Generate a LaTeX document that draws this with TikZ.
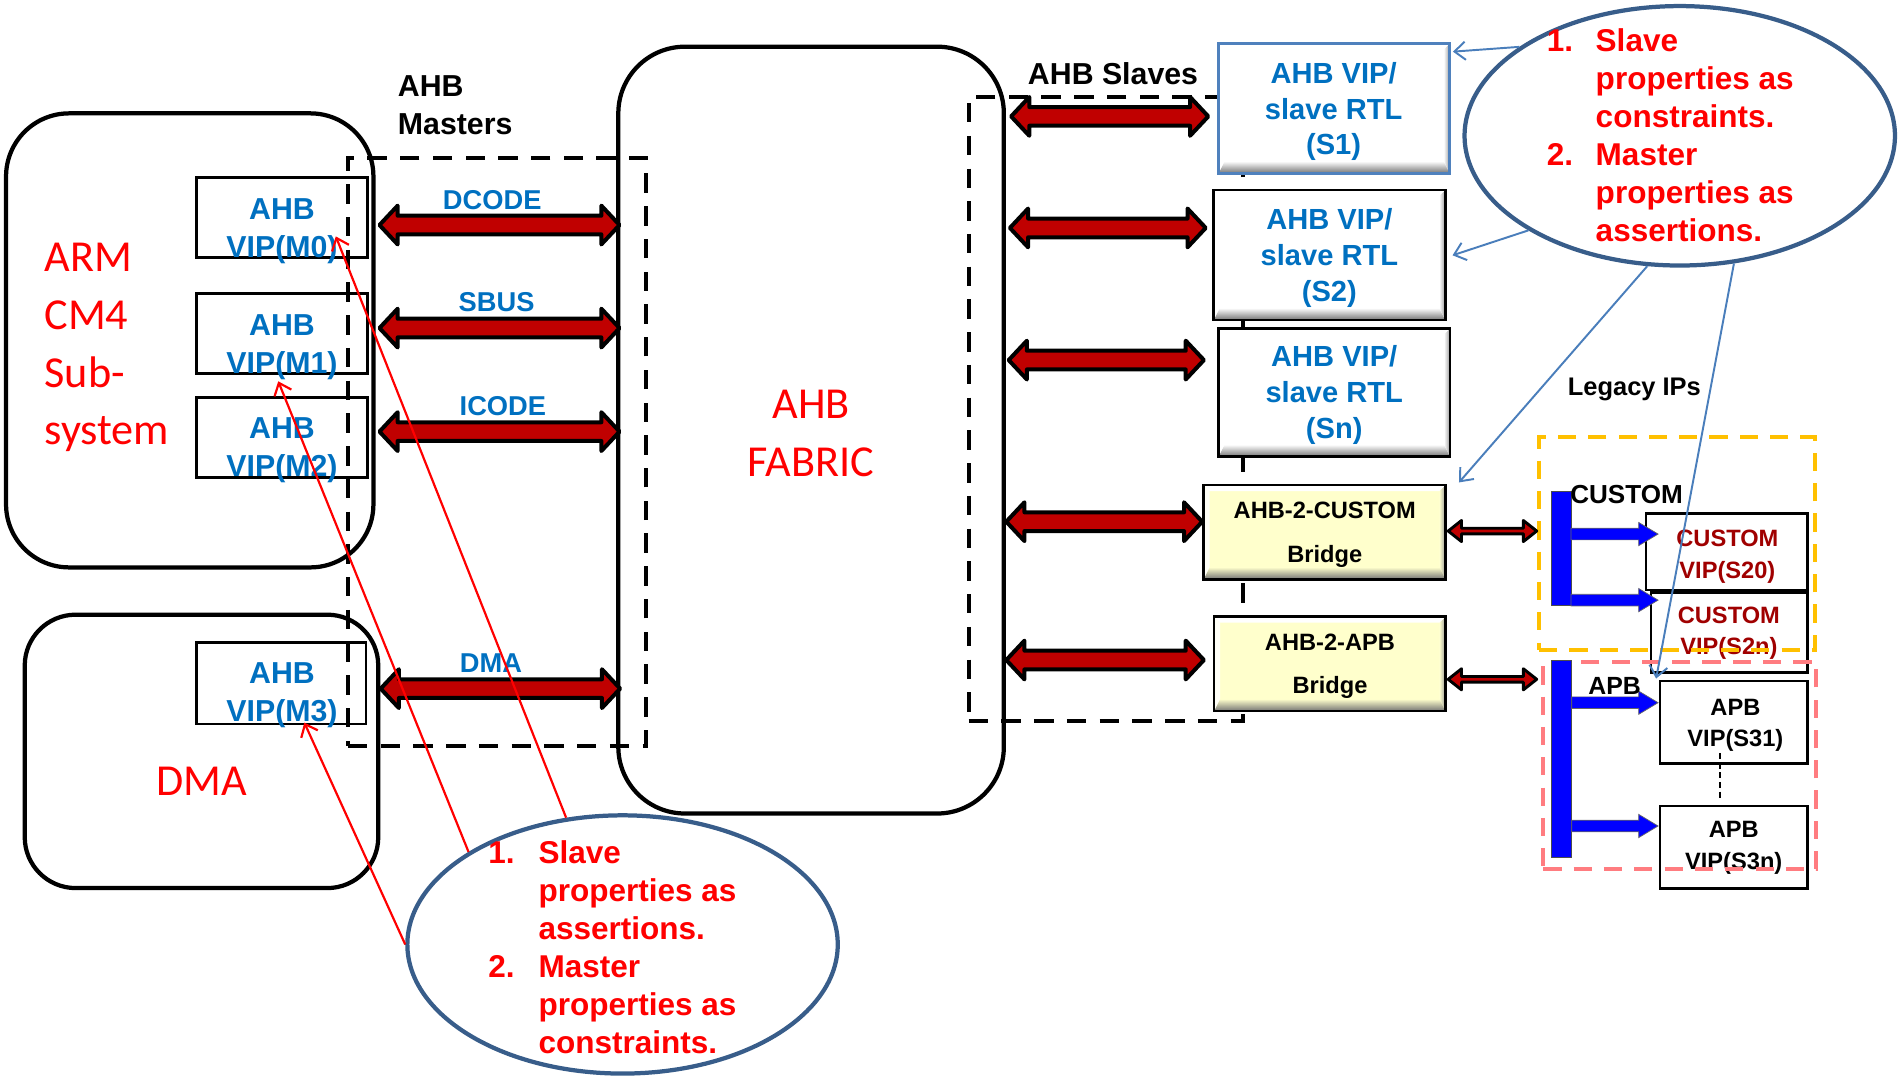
\documentclass[tikz,border=0pt]{standalone}
\usepackage{fontspec}
\setmainfont{Liberation Sans}
\newfontfamily\calib{Carlito}
\usetikzlibrary{calc,fit,shapes.geometric,arrows.meta}

\definecolor{vipblue}{HTML}{0070C0}
\definecolor{busred}{HTML}{C00000}
\definecolor{noteline}{HTML}{385D8A}
\definecolor{linkblue}{HTML}{4A7EBB}
\definecolor{s1edge}{HTML}{4F81BD}
\definecolor{bridgefill}{HTML}{FFFFCC}
\definecolor{custred}{HTML}{A00000}
\definecolor{ipyellow}{HTML}{FFC000}
\definecolor{appink}{HTML}{FF7C80}

% multi-line text whose reference point is the baseline of the last line
\newcommand\mlines[2][c]{\begin{tabular}[b]{@{}#1@{}}#2\end{tabular}}
\newcommand\fs[2]{\fontsize{#1}{#2}\selectfont}

% horizontal double-headed block arrow between two points
% #1 style, #2 head half-height, #3 shaft half-height, #4 head length, #5 left end, #6 right end
\newcommand\fatarrow[6]{%
  \path[#1] let \p1=(#5), \p2=(#6) in
    (\x1,\y1) -- (\x1+#4pt,\y1+#2pt) -- (\x1+#4pt,\y1+#3pt) -- (\x2-#4pt,\y1+#3pt)
    -- (\x2-#4pt,\y1+#2pt) -- (\x2,\y1) -- (\x2-#4pt,\y1-#2pt) -- (\x2-#4pt,\y1-#3pt)
    -- (\x1+#4pt,\y1-#3pt) -- (\x1+#4pt,\y1-#2pt) -- cycle;}

% single-headed blue feed arrow from a bus bar
\newcommand\feedarrow[2]{%
  \path[feedstyle] let \p1=(#1), \p2=(#2) in
    (\x1,\y1-4.8pt) -- (\x2-16pt,\y1-4.8pt) -- (\x2-16pt,\y1-9.6pt) -- (\x2,\y1)
    -- (\x2-16pt,\y1+9.6pt) -- (\x2-16pt,\y1+4.8pt) -- (\x1,\y1+4.8pt) -- cycle;}

\tikzset{
  % raised bevel inside a box, #1 is the face colour
  bevel/.style={path picture={
    \coordinate (bsw) at (path picture bounding box.south west);
    \coordinate (bse) at (path picture bounding box.south east);
    \coordinate (bnw) at (path picture bounding box.north west);
    \coordinate (bne) at (path picture bounding box.north east);
    \shade[top color=#1, bottom color=black!55]
      (bsw) -- (bse) -- ([xshift=-5pt,yshift=10pt]bse) -- ([xshift=5pt,yshift=10pt]bsw) -- cycle;
    \shade[left color=#1, right color=black!40]
      (bse) -- (bne) -- ([xshift=-5pt,yshift=-5pt]bne) -- ([xshift=-5pt,yshift=10pt]bse) -- cycle;
    \fill[white, opacity=0.85]
      (bsw) -- (bnw) -- ([xshift=5pt,yshift=-5pt]bnw) -- ([xshift=5pt,yshift=10pt]bsw) -- cycle;
    \fill[white]
      (bnw) -- (bne) -- ([xshift=-5pt,yshift=-5pt]bne) -- ([xshift=5pt,yshift=-5pt]bnw) -- cycle;}},
  bigbox/.style={draw, line width=3.5pt, rounded corners=#1, fill=white, inner sep=0pt},
  vipbox/.style={draw, line width=2pt, fill=white, inner sep=0pt},
  slavebox/.style={draw, line width=2.2pt, fill=white, inner sep=0pt, bevel=white},
  bridgebox/.style={draw, line width=2.2pt, fill=bridgefill, inner sep=0pt, bevel=bridgefill},
  ipbox/.style={draw, line width=2pt, fill=white, inner sep=0pt},
  groupdash/.style={draw, line width=3.3pt, dash pattern=on 16pt off 11pt, inner sep=0pt},
  yellowgroup/.style={draw=ipyellow, line width=3.3pt, dash pattern=on 15pt off 10pt, inner sep=0pt},
  pinkgroup/.style={draw=appink, line width=3.3pt, dash pattern=on 15pt off 10pt, inner sep=0pt},
  busstyle/.style={draw=black, fill=busred, line width=3.3pt, line join=round},
  smallbus/.style={draw=black, fill=busred, line width=2.4pt, line join=round},
  feedstyle/.style={fill=blue, draw=black!60, line width=0.6pt},
  busbar/.style={fill=blue, draw=black!70, line width=0.8pt, inner sep=0pt},
  note/.style={ellipse, draw=noteline, line width=3.5pt, inner sep=0pt},
  redpointer/.style={draw=red, line width=1.8pt, -{Straight Barb[length=9pt,width=15pt]}},
  bluepointer/.style={draw=linkblue, line width=1.6pt, -{Straight Barb[length=9pt,width=15pt]}},
  linkdash/.style={draw, line width=1.2pt, dash pattern=on 5pt off 3pt},
  viptext/.style={inner sep=0pt, text=vipblue, font=\bfseries\fs{25}{31.5}},
  slavetext/.style={inner sep=0pt, text=vipblue, font=\bfseries\fs{24}{29.6}},
  bustext/.style={inner sep=0pt, text=vipblue, font=\bfseries\fs{22.5}{27}},
  bridgetext/.style={inner sep=0pt, font=\bfseries\fs{19.5}{36}},
  iptext/.style={inner sep=0pt, font=\bfseries\fs{19.5}{26}},
  headtext/.style={inner sep=0pt, font=\bfseries\fs{25}{31.5}},
  smallhead/.style={inner sep=0pt, font=\bfseries\fs{21}{25}},
  blocktext/.style={inner sep=0pt, text=red, font=\calib\fs{36.5}{47.7}},
  notetext/.style={inner sep=0pt, text=red, font=\bfseries\fs{26}{31.3}},
}

\begin{document}
\begin{tikzpicture}[x=1pt,y=-1pt]
\useasboundingbox (0,0) rectangle (1568,892);

% ---------------- masters side ----------------
\node[bigbox=52pt, fit={(5,93.5) (308,468)}] (arm) {};
\node[bigbox=42pt, fit={(20.4,507) (312,732.5)}] (dma) {};
\node[bigbox=55pt, fit={(510,38.5) (828,671)}] (fabric) {};

\node[blocktext, anchor=base west] (armt) at (36.5,367) {\mlines[l]{ARM\\CM4\\Sub-\\system}};
\node[blocktext, anchor=base] (dmat) at (166.5,656) {DMA};
\node[blocktext, anchor=base] (fabt) at (669,392.7) {\mlines{AHB\\FABRIC}};

\node[vipbox, fit={(162,146.5) (303,212.5)}] (m0) {};
\node[vipbox, fit={(162,242) (303,308)}] (m1) {};
\node[vipbox, fit={(162,328) (303,394)}] (m2) {};
\node[vipbox, fit={(162,530) (302,597)}] (m3) {};
\node[viptext, anchor=base] (m0t) at (232.6,212.5) {\mlines{AHB\\VIP(M0)}};
\node[viptext, anchor=base] (m1t) at (232.6,307.9) {\mlines{AHB\\VIP(M1)}};
\node[viptext, anchor=base] (m2t) at (232.6,393) {\mlines{AHB\\VIP(M2)}};
\node[viptext, anchor=base] (m3t) at (232.6,595) {\mlines{AHB\\VIP(M3)}};

\node[headtext, anchor=base west] (mastt) at (328,111) {\mlines[l]{AHB\\Masters}};
\node[headtext, anchor=base west] (slvt) at (847.7,70) {AHB Slaves};

% group frames
\node[groupdash, fit={(287,130) (533,615)}] (mgroup) {};
\node[groupdash, fit={(799,80) (1025,595)}] (sgroup) {};

% master buses
\coordinate (dcL) at (313,185.6);  \coordinate (dcR) at (511,185.6);
\coordinate (sbL) at (313,270.6);  \coordinate (sbR) at (511,270.6);
\coordinate (icL) at (313,356);    \coordinate (icR) at (511,356);
\coordinate (dmL) at (314,568);    \coordinate (dmR) at (511.5,568);
\fatarrow{busstyle}{16}{7.7}{15}{dcL}{dcR}
\fatarrow{busstyle}{16}{7.7}{15}{sbL}{sbR}
\fatarrow{busstyle}{16}{7.7}{15}{icL}{icR}
\fatarrow{busstyle}{16}{7.7}{15}{dmL}{dmR}
\node[bustext, anchor=base] (dct) at (406,173) {DCODE};
\node[bustext, anchor=base] (sbt) at (409.6,257) {SBUS};
\node[bustext, anchor=base] (ict) at (414.8,342.3) {ICODE};
\node[bustext, anchor=base] (dmt) at (405,555) {DMA};

% ---------------- slaves side ----------------
\node[slavebox, draw=s1edge, fit={(1005,35.7) (1195.8,143)}] (s1) {};
\node[slavebox, fit={(1001,156.7) (1192,264)}] (s2) {};
\node[slavebox, fit={(1005,270.8) (1196,376.7)}] (sn) {};
\node[bridgebox, fit={(992.7,400) (1192.3,477.8)}] (bc) {};
\node[bridgebox, fit={(1001.3,508.6) (1192.3,586.5)}] (ba) {};

\node[slavetext, anchor=base] (s1t) at (1100,127.8) {\mlines{AHB VIP/\\slave RTL\\(S1)}};
\node[slavetext, anchor=base] (s2t) at (1096.5,248.8) {\mlines{AHB VIP/\\slave RTL\\(S2)}};
\node[slavetext, anchor=base] (snt) at (1100.5,361.5) {\mlines{AHB VIP/\\slave RTL\\(Sn)}};
\node[bridgetext, anchor=base] (bct) at (1092.7,464) {\mlines{AHB-2-CUSTOM\\Bridge}};
\node[bridgetext, anchor=base] (bat) at (1097,572.4) {\mlines{AHB-2-APB\\Bridge}};

\coordinate (s1L) at (834,96);     \coordinate (s1R) at (996.6,96);
\coordinate (s2L) at (833,188);    \coordinate (s2R) at (994.5,188);
\coordinate (snL) at (832,297);    \coordinate (snR) at (993,297);
\coordinate (bcL) at (830,430.3);  \coordinate (bcR) at (991.6,430.3);
\coordinate (baL) at (830,544.4);  \coordinate (baR) at (993,544.4);
\fatarrow{busstyle}{16}{7.7}{15}{s1L}{s1R}
\fatarrow{busstyle}{16}{7.7}{15}{s2L}{s2R}
\fatarrow{busstyle}{16}{7.7}{15}{snL}{snR}
\fatarrow{busstyle}{16}{7.7}{15}{bcL}{bcR}
\fatarrow{busstyle}{16}{7.7}{15}{baL}{baR}

% ---------------- legacy IPs ----------------
\node[smallhead, anchor=base west] (legt) at (1293,325.8) {Legacy IPs};

\node[ipbox, fit={(1357.6,423.4) (1491,486.6)}] (c20) {};
\node[ipbox, fit={(1361.6,488.8) (1491,554.8)}] (c2n) {};
\node[ipbox, fit={(1369,561.7) (1491,629.6)}] (a31) {};
\node[ipbox, fit={(1369,664.8) (1491,732.7)}] (a3n) {};
\node[iptext, text=custred, anchor=base] (c20t) at (1424.8,477) {\mlines{CUSTOM\\VIP(S20)}};
\node[iptext, text=custred, anchor=base] (c2nt) at (1426,540) {\mlines{CUSTOM\\VIP(S2n)}};
\node[iptext, anchor=base] (a31t) at (1431.4,615.8) {\mlines{APB\\VIP(S31)}};
\node[iptext, anchor=base] (a3nt) at (1430,717) {\mlines{APB\\VIP(S3n)}};
\draw[linkdash] ([xshift=-11.3pt,yshift=9.6pt]a31.south) -- ([xshift=-11.3pt,yshift=3pt]a3n.north);

\node[yellowgroup, fit={(1269.5,360.5) (1497,536)}] (cgroup) {};
\node[pinkgroup, fit={(1273,545.8) (1498,717)}] (agroup) {};

\coordinate (bcS) at (1194.5,438);  \coordinate (bcT) at (1267.5,438);
\coordinate (baS) at (1194.5,560.3);\coordinate (baT) at (1267.5,560.3);
\fatarrow{smallbus}{8.7}{2.3}{11}{bcS}{bcT}
\fatarrow{smallbus}{8.7}{2.3}{11}{baS}{baT}

\node[busbar, fit={(1279.7,405.5) (1295.8,499)}] (cbar) {};
\node[busbar, fit={(1279.7,545) (1296.4,707)}] (abar) {};
\coordinate (cf1) at (1295.8,440.5); \coordinate (cf1t) at (1367.6,440.5);
\coordinate (cf2) at (1295.8,495);   \coordinate (cf2t) at (1367.6,495);
\coordinate (af1) at (1296.4,579.6); \coordinate (af1t) at (1367.6,579.6);
\coordinate (af2) at (1296.4,681.3); \coordinate (af2t) at (1367.6,681.3);
\feedarrow{cf1}{cf1t}
\feedarrow{cf2}{cf2t}
\feedarrow{af1}{af1t}
\feedarrow{af2}{af2t}
\node[smallhead, font=\bfseries\fs{21.5}{25}, anchor=base west] (cbt) at (1295,415) {CUSTOM};
\node[smallhead, font=\bfseries\fs{20.5}{25}, anchor=base west] (abt) at (1310,573) {APB};

% ---------------- notes ----------------
\node[note, minimum width=355pt, minimum height=214pt] (note1) at (1385.5,112) {};
\node[note, minimum width=355pt, minimum height=213pt] (note2) at (513.5,779) {};

\node[notetext, anchor=base west] (n1t) at (1275.6,199.3) {\begin{tabular}[b]{@{}l@{}l@{}}
  \makebox[40.4pt][l]{1.} & Slave\\ & properties as\\ & constraints.\\
  \makebox[40.4pt][l]{2.} & Master\\ & properties as\\ & assertions.\end{tabular}};
\node[notetext, anchor=base west] (n2t) at (402.6,868.6) {\begin{tabular}[b]{@{}l@{}l@{}}
  \makebox[41.4pt][l]{1.} & Slave\\ & properties as\\ & assertions.\\
  \makebox[41.4pt][l]{2.} & Master\\ & properties as\\ & constraints.\end{tabular}};

% pointers from the notes to the verification components
\draw[redpointer] (note2.149) -- ([xshift=-3pt,yshift=-5.5pt]m1.south);
\draw[redpointer] (note2.114) -- ([xshift=-27pt,yshift=-49.5pt]m0.north east);
\draw[redpointer] (note2.180) -- ([xshift=19pt,yshift=2pt]m3.south);

\draw[bluepointer] (note1.151) -- ([xshift=1.5pt,yshift=-8pt]s1.north east);
\draw[bluepointer] (note1.212) -- ([xshift=5pt,yshift=-55pt]s2.north east);
\draw[bluepointer] (note1.256) -- ([xshift=10pt,yshift=1pt]bc.north east);
\draw[bluepointer] (note1.293) -- ([xshift=-2pt,yshift=1pt]a31.north west);
\end{tikzpicture}
\end{document}
